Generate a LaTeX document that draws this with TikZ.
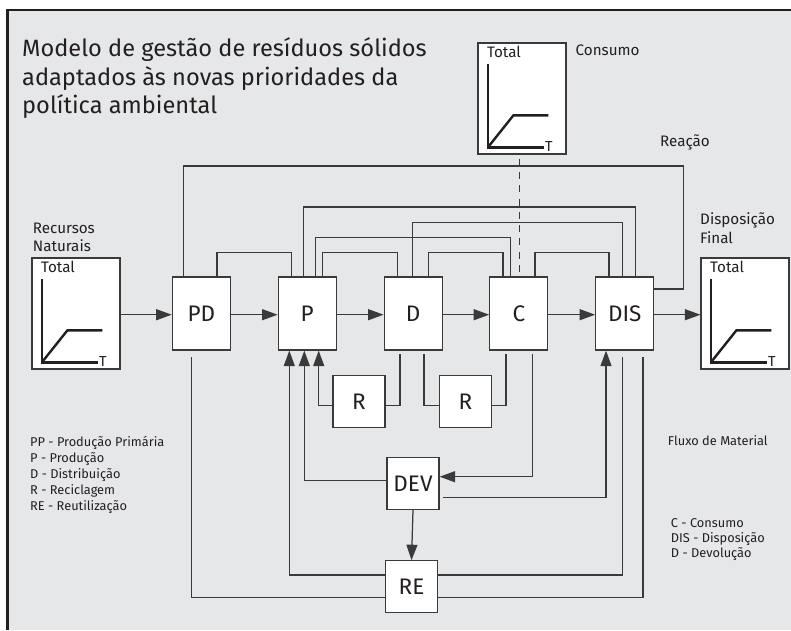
\documentclass[tikz,border=0pt]{standalone}
\usepackage{fontspec}
\setmainfont{Fira Sans}
\usetikzlibrary{arrows.meta}
\definecolor{bg}{HTML}{E6E7E8}
\definecolor{ink}{HTML}{231F20}
\definecolor{ln}{HTML}{3A3A3B}
\tikzset{
  x=1pt,y=-1pt,
  con/.style={draw=ln,line width=1.25pt},
  arr/.style={-{Triangle[length=15.5pt,width=11pt]}},
  mainbox/.style={draw=ln,fill=white,line width=1.25pt,minimum width=58pt,minimum height=73pt,inner sep=0pt,font=\fontsize{22.5}{22.5}\selectfont,text=ink},
  smallbox/.style={draw=ln,fill=white,line width=1.25pt,minimum width=52pt,minimum height=52pt,inner sep=0pt,font=\fontsize{22.5}{22.5}\selectfont,text=ink},
  graphbox/.style={draw=ln,fill=white,line width=1.25pt,minimum width=88pt,minimum height=111pt,inner sep=0pt},
  axisline/.style={draw=ink,line width=2.4pt,line join=miter},
  lbl/.style={inner sep=0pt,text=ink,font=\fontsize{15.2}{15.2}\selectfont},
  small/.style={inner sep=0pt,text=ink,font=\fontsize{12.8}{12.8}\selectfont},
  ttl/.style={inner sep=0pt,text=ink,font=\fontsize{23.6}{23.6}\selectfont},
}
\newcommand\grafico[1]{%
  \begin{scope}[shift={(#1.north west)}]
    \draw[axisline] (10.5,22) -- (10.5,105) -- (67,105);
    \draw[axisline] (10.5,105) -- (36,73) -- (71,73);
    \node[lbl,anchor=base west] (#1-total) at (9.5,15.5) {Total};
    \node[lbl,anchor=base west,font=\fontsize{14.5}{14.5}\selectfont] (#1-t) at (67.5,109) {T};
  \end{scope}}
\begin{document}
\begin{tikzpicture}
\useasboundingbox (0,0) rectangle (791,630);
\fill[white] (0,0) rectangle (791,630);
\fill[bg] (7,10) rectangle (791,630);
\draw[ink,line width=2.4pt] (7.3,630) -- (7.3,10.2) -- (791,10.2);

% title
\node[ttl,anchor=base west] (t1) at (22,56.5) {Modelo de gestão de resíduos sólidos};
\node[ttl,anchor=base west] (t2) at (22,85) {adaptados às novas prioridades da};
\node[ttl,anchor=base west] (t3) at (22,113.5) {política ambiental};

% graph boxes
\node[graphbox] (GL) at (76,313.5) {};
\node[graphbox] (GC) at (522,98.5) {};
\node[graphbox] (GR) at (745,313.5) {};
\grafico{GL}
\grafico{GC}
\grafico{GR}

% labels
\node[lbl,anchor=base west] (consumo) at (575.5,55.7) {Consumo};
\node[lbl,anchor=base west] (reacao) at (660,146) {Reação};
\node[lbl,anchor=base west] (rec1) at (32.7,233.3) {Recursos};
\node[lbl,anchor=base west] (rec2) at (32.7,251.7) {Naturais};
\node[lbl,anchor=base west] (dis1) at (700,224) {Disposição};
\node[lbl,anchor=base west] (dis2) at (700,243.3) {Final};
\node[small,anchor=base west] (fluxo) at (667.7,445.5) {Fluxo de Material};

\node[small,anchor=base west] (lg1) at (30,446) {PP - Produção Primária};
\node[small,anchor=base west] (lg2) at (30,462.3) {P - Produção};
\node[small,anchor=base west] (lg3) at (30,478) {D - Distribuição};
\node[small,anchor=base west] (lg4) at (30,494) {R - Reciclagem};
\node[small,anchor=base west] (lg5) at (30,510) {RE - Reutilização};

\node[small,anchor=base west] (lr1) at (670.7,527) {C - Consumo};
\node[small,anchor=base west] (lr2) at (670.7,542.5) {DIS - Disposição};
\node[small,anchor=base west] (lr3) at (670.7,557.8) {D - Devolução};

% main boxes
\node[mainbox] (PD) at (201.3,313.5) {PD};
\node[mainbox] (P) at (307.2,313.5) {P};
\node[mainbox] (D) at (413.2,313.5) {D};
\node[mainbox] (C) at (518.8,313.5) {C};
\node[mainbox] (DIS) at (624.7,313.5) {DIS};
\node[smallbox] (R1) at (359,401.8) {R};
\node[smallbox] (R2) at (465.3,401.8) {R};
\node[smallbox] (DEV) at (413,483.3) {DEV};
\node[smallbox] (RE) at (411.5,586.8) {RE};

% horizontal flow
\draw[con,arr] (GL.east |- 0,314.7) -- (PD.west |- 0,314.7);
\draw[con,arr] (PD.east |- 0,314.7) -- (P.west |- 0,314.7);
\draw[con,arr] (P.east |- 0,314.7) -- (D.west |- 0,314.7);
\draw[con,arr] (D.east |- 0,314.7) -- (C.west |- 0,314.7);
\draw[con,arr] (C.east |- 0,314.7) -- (DIS.west |- 0,314.7);
\draw[con,arr] (DIS.east |- 0,314.7) -- (GR.west |- 0,314.7);

% top connectors
\draw[con] ([xshift=-17.6pt]PD.north) -- ++(0,-110.5) -| ([xshift=29pt,yshift=24.5pt]DIS.east) -- ([yshift=24.5pt]DIS.east);
\draw[con] ([xshift=15.7pt]PD.north) -- ++(0,-23.7) -| ([xshift=-15.5pt]P.north);
\draw[con] ([xshift=-3.5pt]P.north) -- ++(0,-69.3) -| ([xshift=10.6pt]DIS.north);
\draw[con] ([xshift=8.1pt]P.north) -- ++(0,-39) -| ([xshift=-8.1pt]C.north);
\draw[con] ([xshift=15.5pt]P.north) -- ++(0,-23.7) -| ([xshift=-15.9pt]D.north);
\draw[con] ([xshift=-0.9pt]D.north) -- ++(0,-54) -| ([xshift=-2pt]DIS.north);
\draw[con] ([xshift=15.5pt]D.north) -- ++(0,-23.7) -| ([xshift=-15.8pt]C.north);
\draw[con] ([xshift=16.2pt]C.north) -- ++(0,-23.7) -| ([xshift=-15.7pt]DIS.north);
\draw[con,dash pattern=on 7pt off 6.3pt] ([xshift=0.9pt,yshift=-4pt]C.north |- GC.south) -- ([xshift=0.9pt]C.north);

% bottom connectors
\draw[con,arr] ([yshift=-3.5pt]R1.west) -| ([xshift=11.5pt]P.south);
\draw[con] ([yshift=-3.5pt]R1.east) -| ([xshift=-13.2pt,yshift=-3pt]D.south);
\draw[con] ([xshift=10.8pt,yshift=-3pt]D.south) |- ([yshift=-3.5pt]R2.west);
\draw[con] ([yshift=-3.5pt]R2.east) -| ([xshift=-12.8pt,yshift=-3pt]C.south);
\draw[con,arr] ([xshift=13.5pt,yshift=-3pt]C.south) |- ([yshift=6.6pt]DEV.east);
\draw[con,arr] ([yshift=2.6pt]DEV.west) -| ([xshift=-2.9pt]P.south);
\draw[con,arr] ([xshift=3.5pt,yshift=-14.4pt]DEV.east) -| ([xshift=-18.7pt]DIS.south);
\draw[con,arr] (DEV.south) -- (RE.north);
\draw[con,arr] ([yshift=11.8pt]RE.west) -| ([xshift=-17.9pt]P.south);
\draw[con] ([yshift=-10.9pt]RE.west) -| ([xshift=-9.6pt,yshift=-6pt]PD.south);
\draw[con] ([yshift=11.8pt]RE.east) -| ([xshift=-2pt,yshift=-6pt]DIS.south);
\draw[con] ([yshift=-10.9pt]RE.east) -| ([xshift=18.3pt,yshift=-6pt]DIS.south);
\end{tikzpicture}
\end{document}
